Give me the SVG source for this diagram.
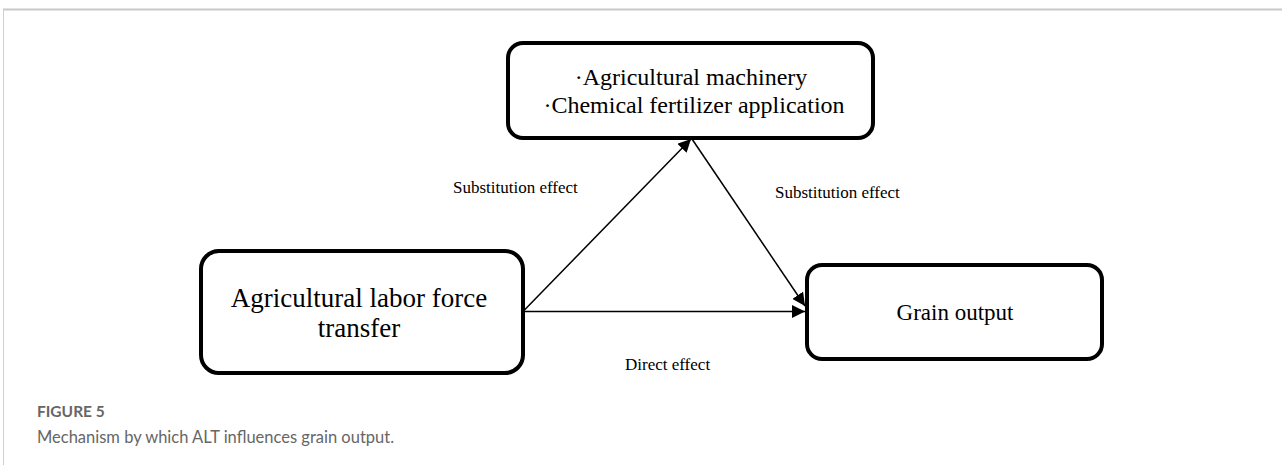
<svg xmlns="http://www.w3.org/2000/svg" width="1282" height="465" viewBox="0 0 1282 465">
<style>
.box{fill:#fff;stroke:#000;stroke-width:4}
.t{font-family:"Liberation Serif",serif;fill:#000;text-anchor:middle}
.lbl{font-family:"Liberation Serif",serif;font-size:17px;fill:#000}
.edge{stroke:#000;stroke-width:1.5;fill:none}
.cap{font-family:Lato,"Open Sans",sans-serif;fill:#666}
</style>
<defs>
<marker id="ah" viewBox="0 0 13 13" refX="13" refY="6.5" markerWidth="13" markerHeight="13" markerUnits="userSpaceOnUse" orient="auto">
<path d="M0,0 L13,6.5 L0,13 Z" fill="#000"/>
</marker>
</defs>
<rect width="1282" height="465" fill="#fff"/>
<line x1="3" y1="9.5" x2="1282" y2="9.5" stroke="#c8c8c8" stroke-width="2"/>
<line x1="3.5" y1="9" x2="3.5" y2="465" stroke="#d0d0d0" stroke-width="1"/>
<g id="connectors">
<line class="edge" x1="523" y1="311.5" x2="805" y2="311.5" marker-end="url(#ah)"/>
<line class="edge" x1="523" y1="311.5" x2="691" y2="139" marker-end="url(#ah)"/>
<line class="edge" x1="692" y1="139" x2="805" y2="306" marker-end="url(#ah)"/>
<text class="lbl" x="453" y="193">Substitution effect</text>
<text class="lbl" x="775" y="198">Substitution effect</text>
<text class="lbl" x="625" y="370">Direct effect</text>
</g>
<g id="mediator">
<rect class="box" x="508" y="43" width="365" height="95" rx="15"/>
<text class="t" x="691" y="85" font-size="24">·Agricultural machinery</text>
<text class="t" x="694" y="113" font-size="24">·Chemical fertilizer application</text>
</g>
<g id="labor">
<rect class="box" x="201" y="251" width="322" height="122" rx="18"/>
<text class="t" x="359" y="307" font-size="27">Agricultural labor force</text>
<text class="t" x="359" y="337" font-size="27">transfer</text>
</g>
<g id="grain">
<rect class="box" x="807" y="265" width="295" height="94" rx="15"/>
<text class="t" x="955" y="320" font-size="23">Grain output</text>
</g>
<g id="caption">
<text class="cap" x="37" y="417" font-size="15.5" font-weight="bold">FIGURE 5</text>
<text class="cap" x="37" y="443" font-size="16.5">Mechanism by which ALT influences grain output.</text>
</g>
</svg>
